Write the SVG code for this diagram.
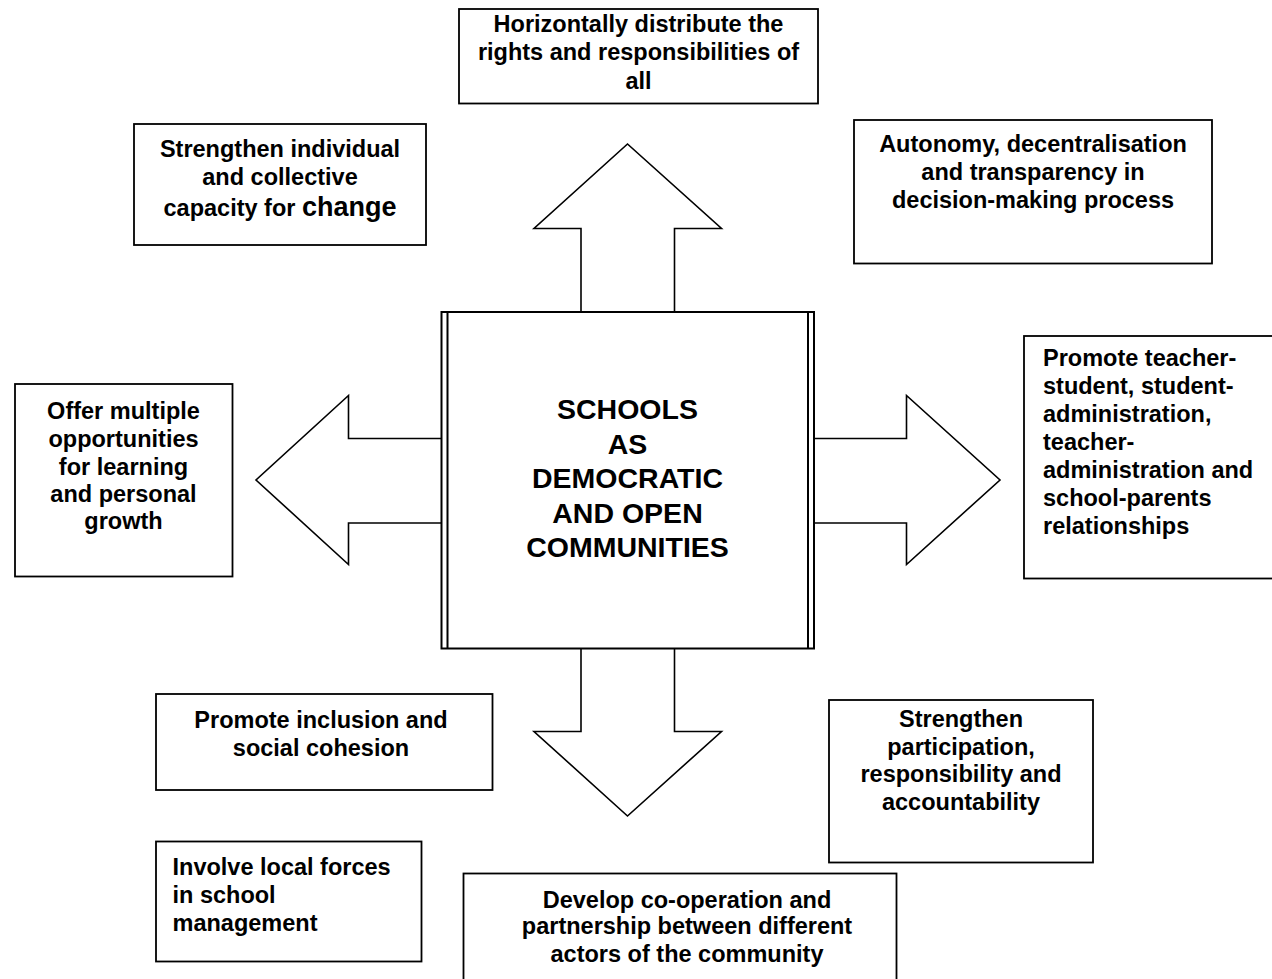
<svg xmlns="http://www.w3.org/2000/svg" width="1272" height="979" viewBox="0 0 1272 979">
  <style>
    .box { fill: #ffffff; stroke: #000000; stroke-width: 1.8; }
    .arrow { fill: #ffffff; stroke: #000000; stroke-width: 1.6; stroke-linejoin: miter; }
    .core { fill: #ffffff; stroke: #000000; stroke-width: 2; }
    .rule { stroke: #000000; stroke-width: 2; }
    text { font-family: "Liberation Sans", Arial, Helvetica, sans-serif; font-weight: bold; fill: #000000; }
    .lbl { font-size: 23.5px; }
    .mid { text-anchor: middle; }
    .title { font-size: 28.5px; text-anchor: middle; }
  </style>

  <rect width="1272" height="979" fill="#ffffff"/>

  <!-- block arrows radiating from the central box -->
  <g id="connectors">
    <polygon class="arrow" points="581,312 581,228.5 534,228.5 627.5,144 721.5,228.5 674.5,228.5 674.5,312"/>
    <polygon class="arrow" points="581,648 581,731.5 534,731.5 627.5,816 721.5,731.5 674.5,731.5 674.5,648"/>
    <polygon class="arrow" points="442,438.5 348.5,438.5 348.5,395.5 256,480 348.5,564.5 348.5,523 442,523"/>
    <polygon class="arrow" points="813,438.5 906.5,438.5 906.5,395.5 1000,480 906.5,564.5 906.5,523 813,523"/>
  </g>

  <!-- central node with doubled side rules -->
  <g id="core">
    <rect class="core" x="441.5" y="312" width="372.5" height="336.5"/>
    <line class="rule" x1="447.5" y1="312" x2="447.5" y2="648.5"/>
    <line class="rule" x1="808" y1="312" x2="808" y2="648.5"/>
    <text class="title" x="627.5" y="419">SCHOOLS</text>
    <text class="title" x="627.5" y="453.5">AS</text>
    <text class="title" x="627.5" y="488">DEMOCRATIC</text>
    <text class="title" x="627.5" y="522.5">AND OPEN</text>
    <text class="title" x="627.5" y="557">COMMUNITIES</text>
  </g>

  <g id="rights">
    <rect class="box" x="459" y="9" width="359" height="94.5"/>
    <text class="lbl mid" x="638.5" y="32">Horizontally distribute the</text>
    <text class="lbl mid" x="638.5" y="60">rights and responsibilities of</text>
    <text class="lbl mid" x="638.5" y="89">all</text>
  </g>

  <g id="capacity">
    <rect class="box" x="134" y="124" width="292" height="121"/>
    <text class="lbl mid" x="280" y="157">Strengthen individual</text>
    <text class="lbl mid" x="280" y="185">and collective</text>
    <text class="lbl mid" x="280" y="216">capacity for <tspan font-size="27">change</tspan></text>
  </g>

  <g id="autonomy">
    <rect class="box" x="854" y="120" width="358" height="143.5"/>
    <text class="lbl mid" x="1033" y="151.5">Autonomy, decentralisation</text>
    <text class="lbl mid" x="1033" y="180">and transparency in</text>
    <text class="lbl mid" x="1033" y="208">decision-making process</text>
  </g>

  <g id="opportunities">
    <rect class="box" x="15" y="384" width="217.5" height="192.5"/>
    <text class="lbl mid" x="123.5" y="419">Offer multiple</text>
    <text class="lbl mid" x="123.5" y="447">opportunities</text>
    <text class="lbl mid" x="123.5" y="475">for learning</text>
    <text class="lbl mid" x="123.5" y="502">and personal</text>
    <text class="lbl mid" x="123.5" y="529">growth</text>
  </g>

  <g id="relationships">
    <rect class="box" x="1024" y="336" width="260" height="242.5"/>
    <text class="lbl" x="1043" y="366">Promote teacher-</text>
    <text class="lbl" x="1043" y="394">student, student-</text>
    <text class="lbl" x="1043" y="422">administration,</text>
    <text class="lbl" x="1043" y="450">teacher-</text>
    <text class="lbl" x="1043" y="478">administration and</text>
    <text class="lbl" x="1043" y="506">school-parents</text>
    <text class="lbl" x="1043" y="534">relationships</text>
  </g>

  <g id="inclusion">
    <rect class="box" x="156" y="694" width="336.5" height="96"/>
    <text class="lbl mid" x="321" y="727.5">Promote inclusion and</text>
    <text class="lbl mid" x="321" y="755.5">social cohesion</text>
  </g>

  <g id="participation">
    <rect class="box" x="829" y="700" width="264" height="162.5"/>
    <text class="lbl mid" x="961" y="727">Strengthen</text>
    <text class="lbl mid" x="961" y="755">participation,</text>
    <text class="lbl mid" x="961" y="782">responsibility and</text>
    <text class="lbl mid" x="961" y="810">accountability</text>
  </g>

  <g id="local-forces">
    <rect class="box" x="156" y="841.5" width="265.5" height="120"/>
    <text class="lbl" x="172.5" y="875">Involve local forces</text>
    <text class="lbl" x="172.5" y="903">in school</text>
    <text class="lbl" x="172.5" y="931">management</text>
  </g>

  <g id="cooperation">
    <rect class="box" x="463.5" y="873.5" width="433" height="120"/>
    <text class="lbl mid" x="687" y="907.5">Develop co-operation and</text>
    <text class="lbl mid" x="687" y="933.5">partnership between different</text>
    <text class="lbl mid" x="687" y="961.5">actors of the community</text>
  </g>
</svg>
